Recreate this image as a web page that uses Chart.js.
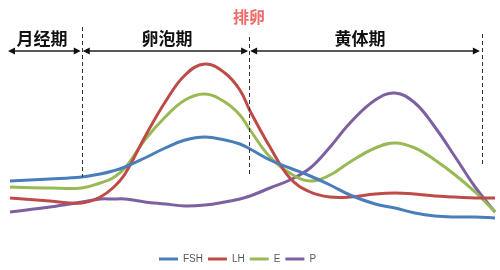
<!DOCTYPE html>
<html>
<head>
<meta charset="utf-8">
<script src="https://cdn.jsdelivr.net/npm/chart.js@4.4.1/dist/chart.umd.min.js"></script>
<style>
html,body{margin:0;padding:0;background:#fff;}
#wrap{width:500px;height:270px;position:relative;}
</style>
</head>
<body>
<div id="wrap"><canvas id="c" width="500" height="270"></canvas></div>
<script>
// Position along the cycle (% of cycle length)
const cyclePos = [0, 8.2, 14.8, 18.6, 21.2, 23.7, 27.8, 32.0, 36.1, 40.2, 44.3, 47.4, 49.5, 53.6, 57.7, 61.9, 66.0, 70.1, 75.3, 79.4, 83.5, 87.6, 91.8, 95.9, 100];
// Hormone levels (relative units)
const fsh = [49, 51, 53, 56, 59, 63, 72, 82, 90, 93, 90, 86, 81, 70, 62, 54, 45, 35, 26, 22, 17, 14, 13, 13, 12];
const lh  = [32, 29, 27, 33, 42, 56, 93, 128, 155, 166, 157, 140, 119, 83, 52, 38, 33, 33, 36, 37, 36, 34, 33, 32, 32];
const e   = [43, 42, 42, 47, 52, 62, 90, 113, 130, 136, 128, 115, 100, 73, 57, 49, 55, 68, 82, 87, 82, 70, 55, 38, 18];
const p   = [18, 23, 28, 31, 31, 31, 28, 26, 24, 25, 28, 31, 34, 42, 50, 62, 83, 107, 130, 137, 127, 103, 73, 43, 18];
const seriesNames = ['FSH', 'LH', 'E', 'P'];
// Phase boundaries (cycle %) and labels
const phaseBounds = [14.8, 49.3, 97.3];
const phaseNames = ['月经期', '卵泡期', '黄体期'];
const ovulationLabel = '排卵';
const levelTop = 230; // level shown at the top edge of the plot

const colors = ['#4a7ebb', '#be4b48', '#98b954', '#7d60a0'];
const values = [fsh, lh, e, p];

const datasets = seriesNames.map((n, i) => ({
  label: n,
  data: cyclePos.map((x, j) => ({x: x, y: values[i][j]})),
  borderColor: colors[i],
  backgroundColor: colors[i],
  borderWidth: 3,
  pointRadius: 0,
  tension: 0.4,
  fill: false,
  clip: false
}));

// keep one level unit per pixel on the vertical axis
const levelScale = {
  id: 'levelScale',
  afterLayout(chart) {
    const y = chart.scales.y;
    const a = chart.chartArea;
    y.max = levelTop - a.top;
    y.min = levelTop - a.bottom;
    y.configure();
  },
  beforeDraw(chart) {
    const lg = chart.legend;
    if (lg && !lg._shifted) {
      lg.left -= 15; lg.right -= 15;
      lg.top += 4; lg.bottom += 4;
      lg._shifted = true;
    }
  }
};

const annot = {
  id: 'annot',
  afterDraw(chart) {
    const ctx = chart.ctx;
    const xs = chart.scales.x, ys = chart.scales.y;
    const x0 = xs.getPixelForValue(0) - 2;
    const b = phaseBounds.map(v => xs.getPixelForValue(v));
    const arrowY = ys.getPixelForValue(179);
    ctx.save();
    // dashed lines
    ctx.strokeStyle = '#333';
    ctx.lineWidth = 1;
    ctx.setLineDash([4, 3]);
    const tops = [203, 193, 196];
    const bots = [53, 55, 63];
    b.forEach((xb, i) => {
      ctx.beginPath();
      ctx.moveTo(Math.round(xb) + 0.5, ys.getPixelForValue(tops[i]));
      ctx.lineTo(Math.round(xb) + 0.5, ys.getPixelForValue(bots[i]));
      ctx.stroke();
    });
    ctx.setLineDash([]);
    // arrows
    const segs = [[x0, b[0] - 1], [b[0] + 1, b[1] - 1], [b[1] + 1, b[2] - 2]];
    ctx.fillStyle = '#111';
    ctx.strokeStyle = '#222';
    ctx.lineWidth = 1.3;
    segs.forEach(([a, c]) => {
      ctx.beginPath();
      ctx.moveTo(a + 4, arrowY);
      ctx.lineTo(c - 4, arrowY);
      ctx.stroke();
      ctx.beginPath();
      ctx.moveTo(a, arrowY); ctx.lineTo(a + 7, arrowY - 3.5); ctx.lineTo(a + 7, arrowY + 3.5); ctx.closePath(); ctx.fill();
      ctx.beginPath();
      ctx.moveTo(c, arrowY); ctx.lineTo(c - 7, arrowY - 3.5); ctx.lineTo(c - 7, arrowY + 3.5); ctx.closePath(); ctx.fill();
    });
    // phase labels
    ctx.font = 'bold 17px "Noto Sans CJK SC"';
    ctx.fillStyle = '#111';
    ctx.textAlign = 'center';
    ctx.textBaseline = 'middle';
    const centers = [42, 167, 360];
    phaseNames.forEach((t, i) => ctx.fillText(t, centers[i], ys.getPixelForValue(191)));
    ctx.font = 'bold 16px "Noto Sans CJK SC"';
    ctx.fillStyle = '#f26a6a';
    ctx.fillText(ovulationLabel, b[1], ys.getPixelForValue(213));
    ctx.restore();
  }
};

new Chart(document.getElementById('c'), {
  type: 'line',
  data: {datasets},
  options: {
    responsive: false,
    animation: false,
    events: [],
    layout: {padding: {left: 10, right: 5, top: 0, bottom: 0}},
    scales: {
      x: {type: 'linear', min: 0, max: 100, display: false},
      y: {min: -10, max: 230, display: false}
    },
    plugins: {
      legend: {
        position: 'bottom',
        labels: {
          usePointStyle: true,
          pointStyle: 'line',
          pointStyleWidth: 19,
          color: '#595959',
          font: {family: 'Liberation Sans', size: 10},
          padding: 5
        }
      },
      tooltip: {enabled: false}
    }
  },
  plugins: [levelScale, annot]
});
</script>
</body>
</html>
